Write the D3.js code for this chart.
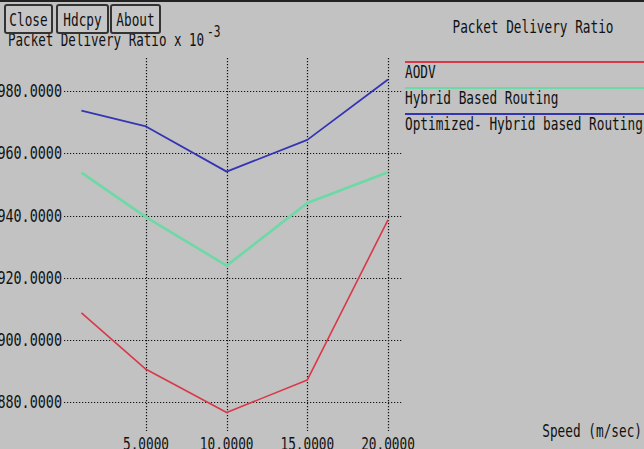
<!DOCTYPE html>
<html>
<head>
<meta charset="utf-8">
<script src="https://cdn.jsdelivr.net/npm/d3@7"></script>
<style>
  body { margin: 0; background: #c2c2c2; }
  svg { display: block; }
  text { font-family: "DejaVu Sans Mono", monospace; font-size: 17px; fill: #111; }
</style>
</head>
<body>
<div id="chart"></div>
<script>
"use strict";

// speed (m/sec) for each sample
var speeds = [1, 5, 10, 15, 20];
// packet delivery ratio x 10^-3
var aodv = [908.7, 890.6, 876.7, 887.2, 938.6];
var hybrid = [953.8, 939.5, 923.9, 944.0, 953.9];
var optimized = [973.7, 968.6, 954.1, 964.3, 983.7];

var seriesNames = ["AODV", "Hybrid Based Routing", "Optimized- Hybrid based Routing"];
var seriesColors = ["#d8394a", "#6cd9a6", "#3535b4"];
var xTicks = [5, 10, 15, 20];
var yTicks = [880, 900, 920, 940, 960, 980];
var buttons = ["Close", "Hdcpy", "About"];

var width = 644, height = 449;
var sx = 0.75; // squeeze glyphs to look like the narrow X font

var svg = d3.select("#chart").append("svg")
  .attr("width", width)
  .attr("height", height);

svg.append("rect")
  .attr("width", width).attr("height", height)
  .attr("fill", "#c2c2c2");

// top window edge
svg.append("rect")
  .attr("width", width).attr("height", 2)
  .attr("fill", "#222");

function label(x, y, txt, anchor, scale) {
  return svg.append("text")
    .attr("transform", "translate(" + x + "," + y + ") scale(" + (scale || sx) + ",1)")
    .attr("text-anchor", anchor || "start")
    .text(txt);
}

var x = d3.scaleLinear().domain([0, 20]).range([65.3, 388]);
var y = d3.scaleLinear().domain([880, 980]).range([402.3, 91]);

// dotted grid
var grid = svg.append("g")
  .attr("stroke", "#111")
  .attr("stroke-width", 1.2)
  .attr("stroke-dasharray", "1.2,1.8");

grid.selectAll("line.h")
  .data(yTicks)
.enter().append("line")
  .attr("class", "h")
  .attr("x1", 64).attr("x2", 402)
  .attr("y1", function(d) { return Math.round(y(d)) + 0.5; })
  .attr("y2", function(d) { return Math.round(y(d)) + 0.5; });

grid.selectAll("line.v")
  .data(xTicks)
.enter().append("line")
  .attr("class", "v")
  .attr("y1", 58).attr("y2", 431)
  .attr("x1", function(d) { return Math.round(x(d)) + 0.5; })
  .attr("x2", function(d) { return Math.round(x(d)) + 0.5; });

// tick labels (the window cuts them off at the left and bottom)
yTicks.forEach(function(d) {
  label(62, y(d) + 6, d3.format(".4f")(d), "end", 0.79);
});
xTicks.forEach(function(d) {
  label(x(d), 450, d3.format(".4f")(d), "middle");
});

// data lines
var line = d3.line()
  .x(function(d, i) { return x(speeds[i]); })
  .y(function(d) { return y(d); });

var allSeries = [aodv, hybrid, optimized];
var widths = [1.6, 2.6, 1.8];

svg.append("g")
  .selectAll("path")
  .data(allSeries)
.enter().append("path")
  .attr("fill", "none")
  .attr("stroke", function(d, i) { return seriesColors[i]; })
  .attr("stroke-width", function(d, i) { return widths[i]; })
  .attr("stroke-linejoin", "round")
  .attr("d", line);

// axis titles
label(8, 46, "Packet Delivery Ratio x 10", "start", 0.738);
svg.append("text")
  .attr("transform", "translate(207,37) scale(" + sx + ",1)")
  .style("font-size", "15px")
  .text("-3");
label(533, 33, "Packet Delivery Ratio", "middle");
label(642, 437, "Speed (m/sec)", "end");

// legend
seriesNames.forEach(function(name, i) {
  var ly = 62 + i * 26;
  svg.append("line")
    .attr("x1", 405).attr("x2", width)
    .attr("y1", ly).attr("y2", ly)
    .attr("stroke", seriesColors[i])
    .attr("stroke-width", 2);
  label(405, ly + 16, name);
});

// xgraph buttons
var bx = [5, 57, 111];
var bw = [47, 51, 49];
buttons.forEach(function(b, i) {
  svg.append("rect")
    .attr("x", bx[i]).attr("y", 5)
    .attr("width", bw[i]).attr("height", 28)
    .attr("rx", 2)
    .attr("fill", "#c6c6c6")
    .attr("stroke", "#333")
    .attr("stroke-width", 2);
  label(bx[i] + bw[i] / 2, 26, b, "middle");
});
</script>
</body>
</html>
